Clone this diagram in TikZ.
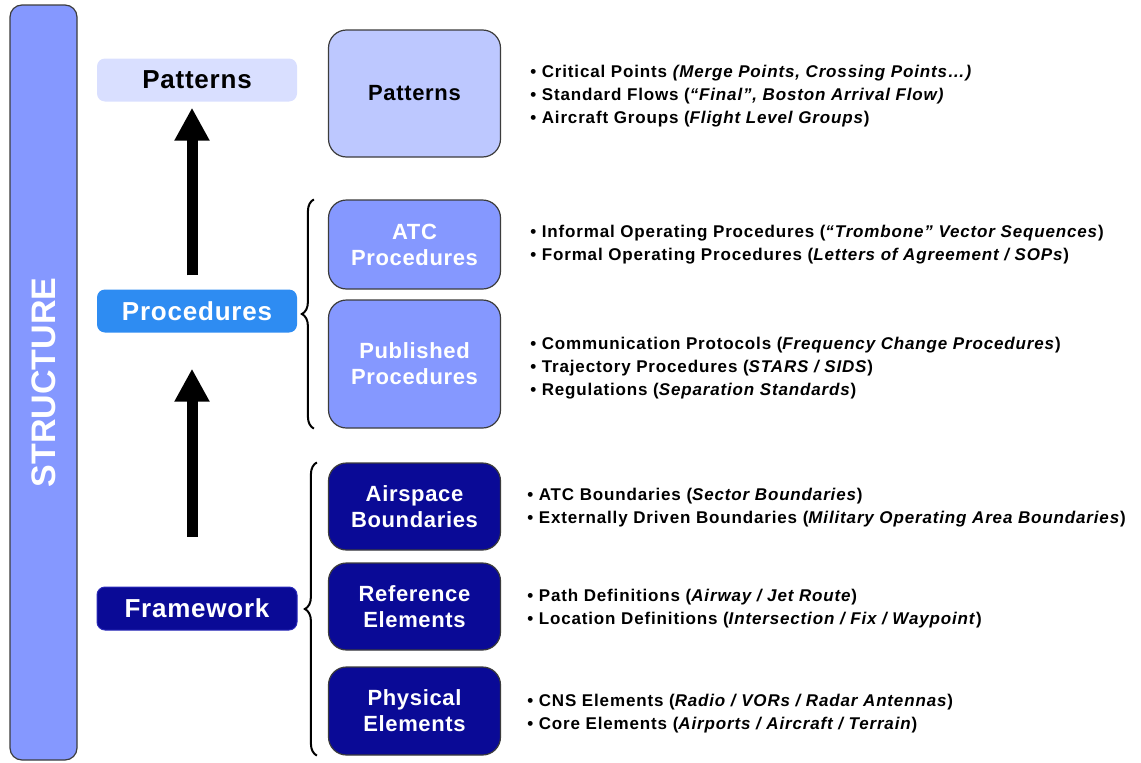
\documentclass[tikz,border=0pt]{standalone}
\usepackage{fontspec}
\setmainfont{Liberation Sans}
\newfontfamily\itemfont{Liberation Sans}[LetterSpace=5]
\newfontfamily\labelfont{Liberation Sans}[LetterSpace=3]
\usepackage{xcolor}
\usepackage{tikz}
\usetikzlibrary{positioning,arrows.meta,decorations.pathreplacing}

\definecolor{barblue}{HTML}{8598FF}
\definecolor{patlight}{HTML}{D9DFFF}
\definecolor{patbox}{HTML}{BDC8FF}
\definecolor{procblue}{HTML}{2E8CF2}
\definecolor{navy}{HTML}{0A0A96}
\definecolor{navyedge}{HTML}{2A2AB8}
\definecolor{boxline}{HTML}{3C3C3C}

\begin{document}
\begin{tikzpicture}[x=1pt, y=-1pt,
    level/.style={rounded corners=8pt, minimum width=200pt, minimum height=43pt, inner sep=0pt,
        font=\labelfont\bfseries\fontsize{26}{28}\selectfont},
    layer/.style={draw=boxline, line width=1.2pt, rounded corners=18pt, minimum width=172pt,
        inner sep=0pt, align=center, font=\labelfont\bfseries\fontsize{22}{26}\selectfont},
    items/.style={anchor=west, align=left, inner sep=0pt, font=\itemfont\bfseries\fontsize{17}{23}\selectfont},
    uparrow/.style={line width=11pt, -{Triangle[width=33pt,length=33pt]}},
    bracket/.style={decorate, decoration={brace, amplitude=12pt}, line width=2pt}]
    \useasboundingbox (0,0) rectangle (1141,763);

    % structure bar
    \node[draw=boxline, line width=1.2pt, fill=barblue, rounded corners=12pt, rotate=90,
        minimum width=755pt, minimum height=67pt, text=white,
        font=\bfseries\fontsize{34}{40}\selectfont] (bar) at (43.5,382.5) {STRUCTURE};

    % levels
    \node[level, fill=patlight] (patlabel) at (197,80) {Patterns};
    \node[level, fill=procblue, text=white] (proclabel) at (197,311) {Procedures};
    \node[level, fill=navy, draw=navyedge, line width=1pt, text=white] (framelabel) at (197,608.5) {Framework};

    \draw[uparrow, shorten <=14pt, shorten >=6pt] ([xshift=-5pt]proclabel.north) -- ([xshift=-5pt]patlabel.south);
    \draw[uparrow, shorten <=50pt, shorten >=36pt] ([xshift=-5pt]framelabel.north) -- ([xshift=-5pt]proclabel.south);

    % layers
    \node[layer, fill=patbox, minimum height=127pt] (patbox) at (414.5,93.5) {Patterns};
    \node[layer, fill=barblue, text=white, minimum height=89pt] (atcbox) at (414.5,244.5) {ATC\\Procedures};
    \node[layer, fill=barblue, text=white, minimum height=128pt] (pubbox) at (414.5,364) {Published\\Procedures};
    \node[layer, fill=navy, text=white, minimum height=87pt] (airbox) at (414.5,506.5) {Airspace\\Boundaries};
    \node[layer, fill=navy, text=white, minimum height=87pt] (refbox) at (414.5,606.5) {Reference\\Elements};
    \node[layer, fill=navy, text=white, minimum height=88pt] (physbox) at (414.5,711) {Physical\\Elements};

    \draw[bracket] ([xshift=-14pt]pubbox.south west) -- ([xshift=-14pt]atcbox.north west);
    \draw[bracket] ([xshift=-11pt]physbox.south west) -- ([xshift=-11pt]airbox.north west);

    % descriptions
    \node[items, right=29pt of patbox, yshift=-3pt] (patitems) {%
        • Critical Points \textit{(Merge Points, Crossing Points…)}\\
        • Standard Flows (\textit{“Final”, Boston Arrival Flow)}\\
        • Aircraft Groups (\textit{Flight Level Groups})};
    \node[items, right=29pt of atcbox] (atcitems) {%
        • Informal Operating Procedures (\textit{“Trombone” Vector Sequences})\\
        • Formal Operating Procedures (\textit{Letters of Agreement / SOPs})};
    \node[items, right=29pt of pubbox, yshift=-4pt] (pubitems) {%
        • Communication Protocols (\textit{Frequency Change Procedures})\\
        • Trajectory Procedures (\textit{STARS / SIDS})\\
        • Regulations (\textit{Separation Standards})};
    \node[items, right=26pt of airbox, yshift=-1pt] (airitems) {%
        • ATC Boundaries (\textit{Sector Boundaries})\\
        • Externally Driven Boundaries (\textit{Military Operating Area Boundaries})};
    \node[items, right=26pt of refbox, yshift=-2pt] (refitems) {%
        • Path Definitions (\textit{Airway / Jet Route})\\
        • Location Definitions (\textit{Intersection / Fix / Waypoint})};
    \node[items, right=26pt of physbox, yshift=-3pt] (physitems) {%
        • CNS Elements (\textit{Radio / VORs / Radar Antennas})\\
        • Core Elements (\textit{Airports / Aircraft / Terrain})};
\end{tikzpicture}
\end{document}
